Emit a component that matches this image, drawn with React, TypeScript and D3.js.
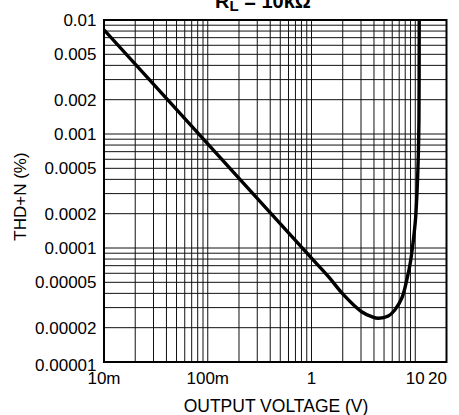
import React from "react";
import * as d3 from "d3";

// THD+N versus output voltage, RL = 10kΩ
const voltage = [0.01, 0.1, 1, 1.457, 2.03, 3.04, 3.8, 4.41, 5.49, 6.35, 7.42, 8.28, 8.95, 9.52, 9.83, 10.09, 10.45, 10.73, 10.85, 10.92];
const thdN = [0.0082, 0.00082, 0.0000815, 0.000056, 0.000039, 0.0000276, 0.000025, 0.0000242, 0.0000253, 0.0000286, 0.0000364, 0.0000524, 0.0000739, 0.000111, 0.000144, 0.000187, 0.000343, 0.000724, 0.00133, 0.01];

const xTickValues = [0.01, 0.1, 1, 10, 20];
const xTickLabels = ["10m", "100m", "1", "10", "20"];
const yTickValues = [0.01, 0.005, 0.002, 0.001, 0.0005, 0.0002, 0.0001, 0.00005, 0.00002, 0.00001];
const yTickLabels = ["0.01", "0.005", "0.002", "0.001", "0.0005", "0.0002", "0.0001", "0.00005", "0.00002", "0.00001"];

const W = 459;
const H = 415;
const left = 104;
const right = 446.5;
const top = 20;
const bottom = 362;
const font = "'Liberation Sans', Arial, Helvetica, sans-serif";

export default function App() {
  const x = d3.scaleLog().domain([0.01, 20]).range([left, right]);
  const y = d3.scaleLog().domain([0.00001, 0.01]).range([bottom, top]);

  // log grid: 1..9 per decade
  const xGrid: number[] = [];
  for (let e = -2; e <= 1; e++) {
    for (let m = 1; m <= 9; m++) {
      const v = m * Math.pow(10, e);
      if (v <= 10.0001) xGrid.push(v);
    }
  }
  const yGrid: number[] = [];
  for (let e = -5; e <= -3; e++) {
    for (let m = 1; m <= 9; m++) yGrid.push(m * Math.pow(10, e));
  }
  yGrid.push(0.01);

  const pts: [number, number][] = voltage.map((v, i) => [x(v), y(thdN[i])]);
  const line = d3.line().curve(d3.curveCatmullRom.alpha(0.5))(pts) || "";

  return (
    <svg width={W} height={H} style={{ position: "absolute", left: 0, top: 0 }} fontFamily={font}>
      <defs>
        <clipPath id="plot">
          <rect x={left} y={top} width={right - left} height={bottom - top} />
        </clipPath>
      </defs>
      <rect x={0} y={0} width={W} height={H} fill="#fff" />
      {xGrid.map((v) => (
        <line key={"xg" + v} x1={x(v)} x2={x(v)} y1={top} y2={bottom} stroke="#111" strokeWidth={1} />
      ))}
      {yGrid.map((v) => (
        <line key={"yg" + v} x1={left} x2={right} y1={y(v)} y2={y(v)} stroke="#111" strokeWidth={1} />
      ))}
      <rect x={left} y={top} width={right - left} height={bottom - top} fill="none" stroke="#000" strokeWidth={2} />
      <path d={line} fill="none" stroke="#000" strokeWidth={3.4} clipPath="url(#plot)" strokeLinejoin="round" />

      {yTickValues.map((v, i) => (
        <text
          key={"yt" + v}
          x={96.5}
          y={y(v) + (i === yTickValues.length - 1 ? 3 : 0.5)}
          textAnchor="end"
          dominantBaseline="central"
          fontSize={17}
          fill="#000"
        >
          {yTickLabels[i]}
        </text>
      ))}
      {xTickValues.map((v, i) => (
        <text
          key={"xt" + v}
          x={i === xTickValues.length - 1 ? x(v) + 0.5 : x(v)}
          y={384}
          textAnchor={i === xTickValues.length - 1 ? "end" : "middle"}
          fontSize={17}
          fill="#000"
        >
          {xTickLabels[i]}
        </text>
      ))}
      <text x={276} y={412} textAnchor="middle" fontSize={17.5} fill="#000">
        OUTPUT VOLTAGE (V)
      </text>
      <text
        transform={`translate(26,${196.5}) rotate(-90)`}
        textAnchor="middle"
        fontSize={17}
        fill="#000"
      >
        THD+N (%)
      </text>
      <text x={263} y={7.5} textAnchor="middle" fontSize={20} fontWeight="bold" fill="#000">
        R<tspan fontSize={15} dy={3}>L</tspan>
        <tspan dy={-3}> = 10kΩ</tspan>
      </text>
    </svg>
  );
}
